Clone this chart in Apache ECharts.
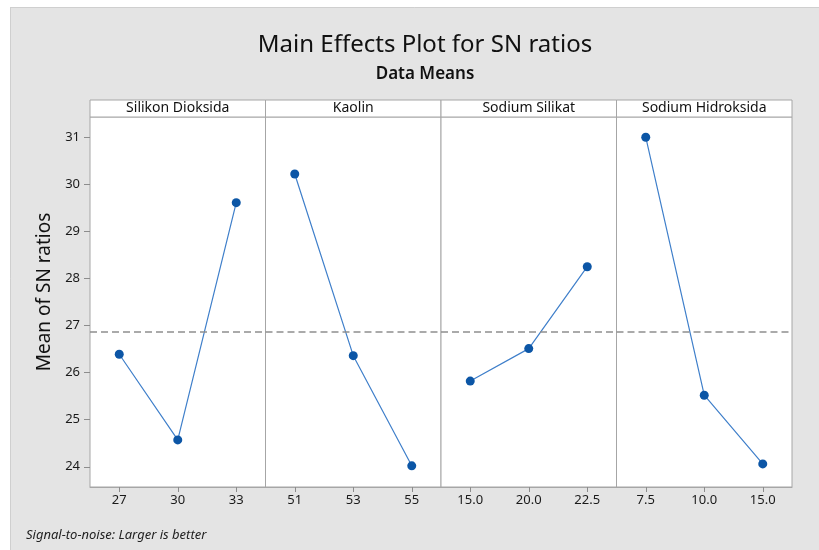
<!DOCTYPE html>
<html>
<head>
<meta charset="utf-8">
<script src="https://cdn.jsdelivr.net/npm/echarts@6/dist/echarts.min.js"></script>
<style>
html,body{margin:0;padding:0;background:#fff;}
#chart{width:819px;height:550px;}
</style>
</head>
<body>
<div id="chart"></div>
<script>
// ---- data ----
const factors = ["Silikon Dioksida", "Kaolin", "Sodium Silikat", "Sodium Hidroksida"];
const levelsSilikon = ["27", "30", "33"];
const levelsKaolin = ["51", "53", "55"];
const levelsSilikat = ["15.0", "20.0", "22.5"];
const levelsHidroksida = ["7.5", "10.0", "15.0"];
const meansSilikon = [26.39, 24.57, 29.61];
const meansKaolin = [30.22, 26.36, 24.02];
const meansSilikat = [25.82, 26.51, 28.25];
const meansHidroksida = [31.00, 25.52, 24.06];
const grandMean = 26.86;
const yMin = 23.57, yMax = 31.43;

const levels = [levelsSilikon, levelsKaolin, levelsSilikat, levelsHidroksida];
const means = [meansSilikon, meansKaolin, meansSilikat, meansHidroksida];

// ---- layout ----
const W = 819, H = 550;
const plotL = 90, plotR = 792, plotT = 117, plotB = 487, stripH = 17;
const pw = (plotR - plotL) / 4;
const FONT = "Noto Sans";

const grids = [], xAxes = [], yAxes = [], series = [], graphics = [];

graphics.push({type:'rect', shape:{x:0,y:0,width:W,height:7}, style:{fill:'#fff'}, silent:true});
graphics.push({type:'rect', shape:{x:0,y:0,width:10,height:H}, style:{fill:'#fff'}, silent:true});
graphics.push({type:'line', shape:{x1:10,y1:7.5,x2:W,y2:7.5}, style:{stroke:'#cfcfcf',lineWidth:1}, silent:true});
graphics.push({type:'line', shape:{x1:10.5,y1:7,x2:10.5,y2:H}, style:{stroke:'#cfcfcf',lineWidth:1}, silent:true});

for (let i = 0; i < 4; i++) {
  const left = plotL + i * pw;
  grids.push({left: left, top: plotT, width: pw, height: plotB - plotT, show: true,
    backgroundColor: '#fff', borderColor: '#a6a6a6', borderWidth: 1});
  xAxes.push({type:'category', gridIndex:i, data: levels[i], boundaryGap:true,
    axisLine:{show:true, lineStyle:{color:'#a6a6a6'}},
    axisTick:{show:true, alignWithLabel:true, length:5, lineStyle:{color:'#8c8c8c'}},
    axisLabel:{color:'#1a1a1a', fontSize:13, fontFamily:FONT, margin:7}});
  yAxes.push({type:'value', gridIndex:i, min:yMin, max:yMax, splitNumber:8,
    show: i === 0,
    axisLine:{show:false},
    axisTick:{show:true, length:6, lineStyle:{color:'#8c8c8c'}},
    axisLabel:{color:'#1a1a1a', fontSize:13, fontFamily:FONT, margin:10, showMinLabel:false, showMaxLabel:false},
    splitLine:{show:false}});
  series.push({type:'line', xAxisIndex:i, yAxisIndex:i, data: means[i],
    symbol:'circle', symbolSize:9,
    itemStyle:{color:'#0c56a6'}, lineStyle:{color:'#3f7fca', width:1.2},
    markLine:{silent:true, symbol:'none', label:{show:false},
      lineStyle:{color:'#8f8f8f', type:[7,4], width:1.5},
      data:[{yAxis: grandMean}]}});
  graphics.push({type:'rect', shape:{x:left, y:plotT - stripH, width:pw, height:stripH},
    style:{fill:'#fff', stroke:'#a6a6a6', lineWidth:1}, silent:true});
  graphics.push({type:'text', x: left + pw/2, y: plotT - stripH/2,
    style:{text: factors[i], fill:'#111', font:'14px "' + FONT + '"', textAlign:'center', textVerticalAlign:'middle'}, silent:true});
}

graphics.push({type:'text', x: 45, y: 292, rotation: Math.PI/2,
  style:{text:'Mean of SN ratios', fill:'#111', font:'19px "' + FONT + '"', textAlign:'center', textVerticalAlign:'middle'}, silent:true});
graphics.push({type:'text', x: 26, y: 535,
  style:{text:'Signal-to-noise: Larger is better', fill:'#222', font:'italic 13px "' + FONT + '"', textAlign:'left', textVerticalAlign:'middle'}, silent:true});

const chart = echarts.init(document.getElementById('chart'), null, {renderer:'canvas'});
chart.setOption({
  backgroundColor:'#e4e4e4',
  animation:false,
  title:[
    {text:'Main Effects Plot for SN ratios', left:420, textAlign:'center', top:28,
      textStyle:{fontSize:24, fontWeight:'normal', color:'#111', fontFamily:FONT}},
    {text:'Data Means', left:420, textAlign:'center', top:61,
      textStyle:{fontSize:17, fontWeight:600, color:'#111', fontFamily:FONT}}
  ],
  grid: grids, xAxis: xAxes, yAxis: yAxes, series: series,
  graphic: graphics
});
</script>
</body>
</html>
